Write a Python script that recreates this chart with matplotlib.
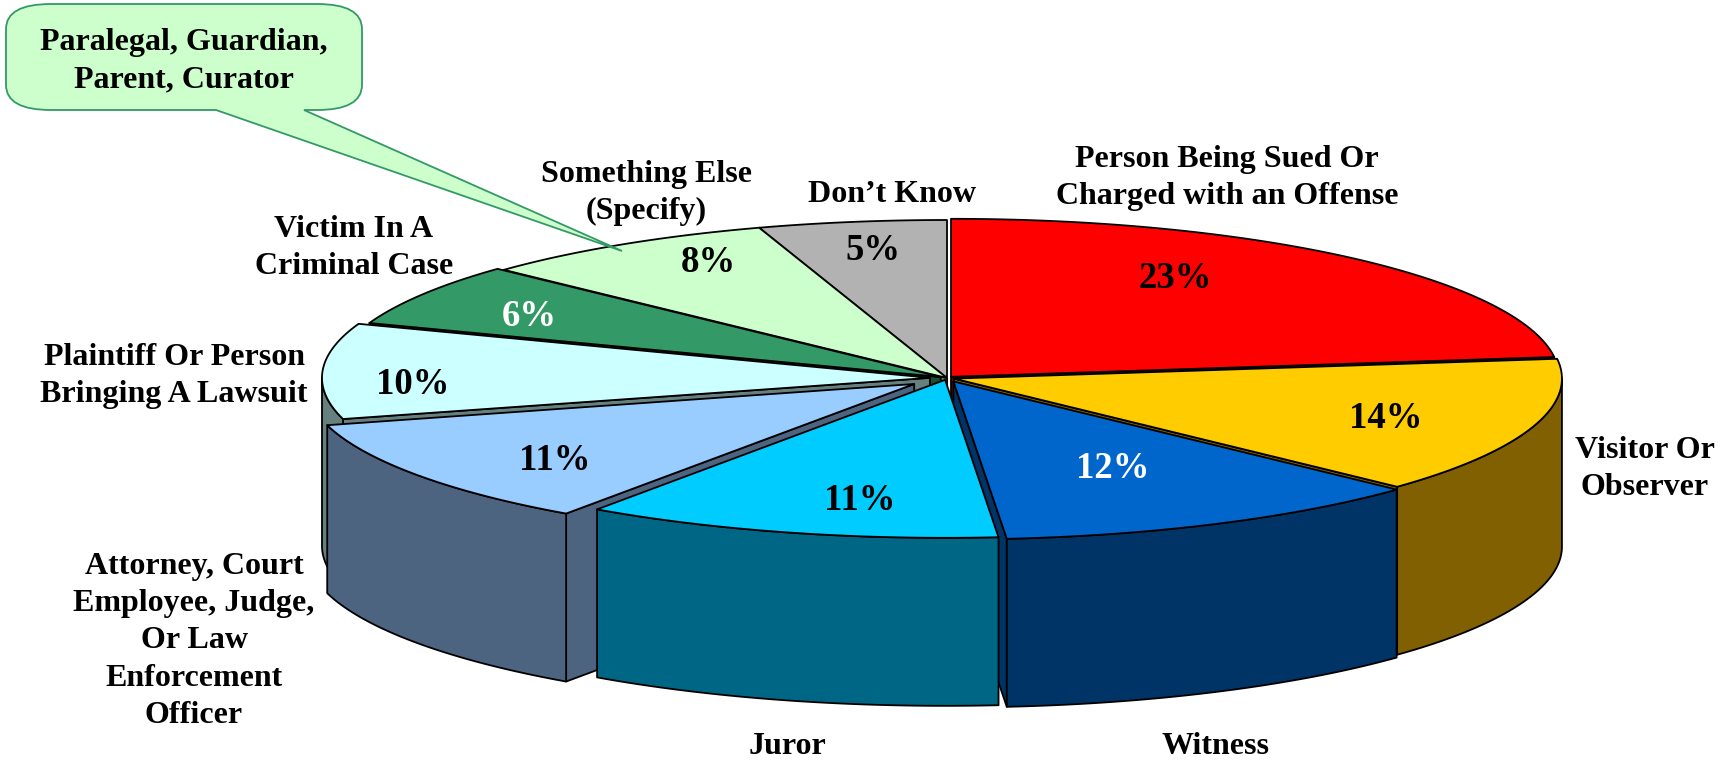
from matplotlib import pyplot as plt
from matplotlib.patches import PathPatch, Polygon
from matplotlib.path import Path
import numpy as np

plt.rcParams['font.family'] = ['Liberation Serif', 'DejaVu Serif']

categories = ['Person Being Sued Or\nCharged with an Offense', 'Visitor Or\nObserver', 'Witness', 'Juror',
              'Attorney, Court\nEmployee, Judge,\nOr Law\nEnforcement\nOfficer',
              'Plaintiff Or Person\nBringing A Lawsuit', 'Victim In A\nCriminal Case',
              'Something Else\n(Specify)', 'Don’t Know']
values = [23, 14, 11.6, 11.1, 11.1, 9.75, 6.45, 8, 5]
pct_labels = ['23%', '14%', '12%', '11%', '11%', '10%', '6%', '8%', '5%']
callout_text = 'Paralegal, Guardian,\nParent, Curator'

top_colors = ['#FF0000', '#FFCC00', '#0066CC', '#00CCFF', '#99CCFF', '#CCFFFF', '#339966', '#CCFFCC', '#B2B2B2']
wall_colors = ['#800000', '#806000', '#003366', '#006685', '#4D6480', '#668080', '#1A4D33', '#668066', '#595959']
pct_colors = ['black', 'black', 'white', 'black', 'black', 'black', 'white', 'black', 'black']

explode = [0.01, 0.012, 0.024, 0.012, 0.066, 0.028, 0.012, 0.0, 0.0]
draw_order = [8, 7, 6, 5, 0, 1, 4, 2, 3]

label_pos = [(1227, 178), (1645, 469), (1215, 746), (787, 746), (194, 641),
             (174, 376), (354, 248), (646, 193), (892, 194)]
label_gaps = [1.32, 1.38, 1.2, 1.2, 1.38, 1.38, 1.38, 1.32, 1.2]
pct_pos = [(1175, 279), (1386, 418), (1113, 469), (860, 501), (555, 460),
           (413, 384), (529, 316), (708, 262), (873, 250)]

cx, cy = 947, 378
rx, ry = 608, 158
depth = 168
line_w = 1.3

LABEL_SIZE = 23
PCT_SIZE = 26.5


def point(center, angle):
    # angle in degrees, clockwise from the top of the pie
    a = np.radians(angle)
    return np.column_stack([center[0] + rx * np.sin(a), center[1] - ry * np.cos(a)])


def add_face(ax, pts, color):
    ax.add_patch(Polygon(pts, closed=True, facecolor=color, edgecolor='black',
                         linewidth=line_w, joinstyle='round'))


def draw_side(ax, center, angle, color):
    corner = point(center, np.array([angle]))[0]
    pts = [center, corner, (corner[0], corner[1] + depth), (center[0], center[1] + depth)]
    add_face(ax, pts, color)


def draw_slice(ax, start, end, frac, top, wall):
    mid = np.radians((start + end) / 2)
    center = (cx + rx * frac * np.sin(mid), cy - ry * frac * np.cos(mid))

    if np.sin(np.radians(start)) < -1e-6:
        draw_side(ax, center, start, wall)
    if np.sin(np.radians(end)) > 1e-6:
        draw_side(ax, center, end, wall)

    # outer wall, only the part facing the viewer
    a0, a1 = max(start, 90), min(end, 270)
    if a1 > a0:
        arc = point(center, np.linspace(a0, a1, 80))
        lower = arc + [0, depth]
        add_face(ax, np.vstack([arc, lower[::-1]]), wall)

    arc = point(center, np.linspace(start, end, 150))
    add_face(ax, np.vstack([[center], arc]), top)


def draw_callout(ax):
    x0, x1, y0, y1 = 6, 362, 4, 110
    rad_x, rad_y = 45, 25
    tip = (622, 251)
    verts = [(x0 + rad_x, y0), (x1 - rad_x, y0), (x1, y0), (x1, y0 + rad_y),
             (x1, y1 - rad_y), (x1, y1), (x1 - rad_x, y1),
             (304, y1), tip, (216, y1),
             (x0 + rad_x, y1), (x0, y1), (x0, y1 - rad_y),
             (x0, y0 + rad_y), (x0, y0), (x0 + rad_x, y0)]
    codes = [Path.MOVETO, Path.LINETO, Path.CURVE3, Path.CURVE3,
             Path.LINETO, Path.CURVE3, Path.CURVE3,
             Path.LINETO, Path.LINETO, Path.LINETO,
             Path.LINETO, Path.CURVE3, Path.CURVE3,
             Path.LINETO, Path.CURVE3, Path.CURVE3]
    ax.add_patch(PathPatch(Path(verts, codes), facecolor='#CCFFCC', edgecolor='#339966',
                           linewidth=1.3, zorder=2))
    ax.text(184, 61, callout_text, ha='center', va='center', fontsize=LABEL_SIZE,
            fontweight='bold', linespacing=1.38, zorder=3)


fig = plt.figure(figsize=(17.35, 7.61), dpi=100)
ax = fig.add_axes([0, 0, 1, 1])
ax.set_xlim(0, 1735)
ax.set_ylim(761, 0)
ax.axis('off')

edges = np.cumsum([0] + values) / np.sum(values) * 360
for i in draw_order:
    draw_slice(ax, edges[i], edges[i + 1], explode[i], top_colors[i], wall_colors[i])

for i in range(len(categories)):
    ax.text(label_pos[i][0], label_pos[i][1], categories[i], ha='center', va='center',
            fontsize=LABEL_SIZE, fontweight='bold', linespacing=label_gaps[i], zorder=3)
    ax.text(pct_pos[i][0], pct_pos[i][1], pct_labels[i], ha='center', va='center',
            fontsize=PCT_SIZE, fontweight='bold', color=pct_colors[i], zorder=3)

draw_callout(ax)

fig.savefig('out.png', dpi=100)
